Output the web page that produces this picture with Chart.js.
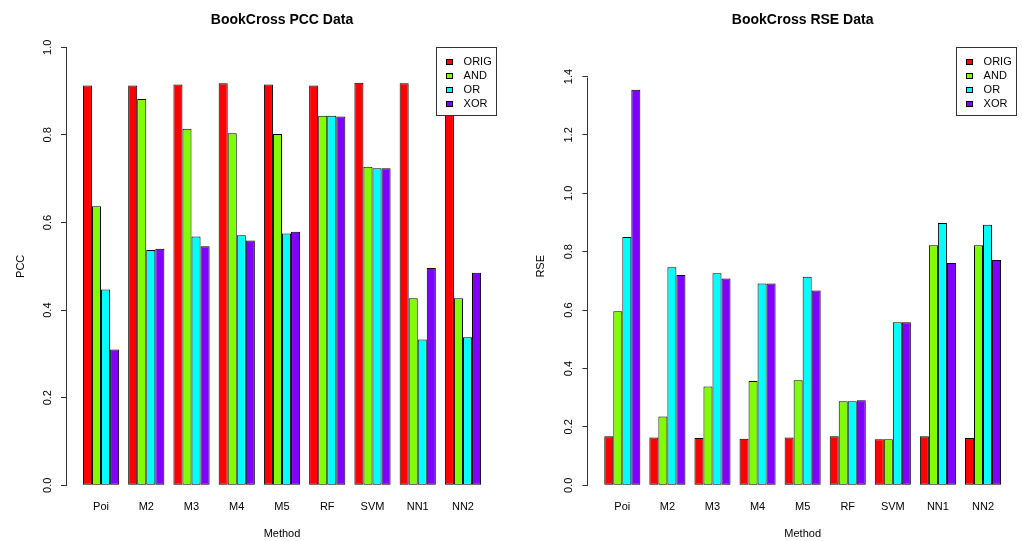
<!DOCTYPE html>
<html>
<head>
<meta charset="utf-8">
<script src="https://cdn.jsdelivr.net/npm/chart.js@4/dist/chart.umd.min.js"></script>
<style>
  html, body { margin: 0; padding: 0; background: #fff; }
  #wrap { position: relative; width: 1022px; height: 541px; overflow: hidden; }
  canvas { position: absolute; top: 0; }
  #pcc { left: 0; }
  #rse { left: 511px; }
</style>
</head>
<body>
<div id="wrap">
  <canvas id="pcc" width="511" height="541"></canvas>
  <canvas id="rse" width="511" height="541"></canvas>
</div>
<script>
// Methods compared on the BookCross data
const methods = ['Poi', 'M2', 'M3', 'M4', 'M5', 'RF', 'SVM', 'NN1', 'NN2'];
const seriesNames = ['ORIG', 'AND', 'OR', 'XOR'];
const seriesColors = ['#FF0000', '#80FF00', '#00FFFF', '#8000FF'];

// Pearson correlation coefficient per method
const pccOrig = [0.913, 0.913, 0.915, 0.918, 0.915, 0.913, 0.919, 0.918, 0.916];
const pccAnd  = [0.637, 0.882, 0.814, 0.804, 0.802, 0.844, 0.727, 0.427, 0.427];
const pccOr   = [0.447, 0.537, 0.568, 0.571, 0.575, 0.844, 0.724, 0.333, 0.338];
const pccXor  = [0.310, 0.540, 0.546, 0.559, 0.579, 0.842, 0.724, 0.496, 0.485];

// Relative squared error per method
const rseOrig = [0.168, 0.164, 0.162, 0.159, 0.164, 0.168, 0.158, 0.168, 0.162];
const rseAnd  = [0.596, 0.236, 0.338, 0.357, 0.360, 0.288, 0.158, 0.822, 0.822];
const rseOr   = [0.850, 0.747, 0.726, 0.691, 0.714, 0.288, 0.558, 0.898, 0.892];
const rseXor  = [1.355, 0.720, 0.708, 0.691, 0.667, 0.291, 0.558, 0.761, 0.772];

// Y-axis tick values
const pccTicks = [0.0, 0.2, 0.4, 0.6, 0.8, 1.0];
const rseTicks = [0.0, 0.2, 0.4, 0.6, 0.8, 1.0, 1.2, 1.4];

const FONT = '"Liberation Sans", Arial, Helvetica, sans-serif';
Chart.defaults.font.family = FONT;
Chart.defaults.color = '#000';

// Bar slots: each group is 4 bars of width 1 followed by a gap of 1
const groupCenter = i => 3 + 5 * i;
const X_MIN = 1 - 44 * 0.04;
const X_MAX = 45 + 44 * 0.04;

// Y axis line spanning only the tick range
const axisLine = {
  id: 'axisLine',
  afterDraw(chart) {
    const ys = chart.scales.y;
    const t = ys.ticks;
    const top = ys.getPixelForValue(t[t.length - 1].value);
    const bot = ys.getPixelForValue(t[0].value);
    const x = Math.round(chart.chartArea.left) - 0.5;
    const ctx = chart.ctx;
    ctx.save();
    ctx.strokeStyle = '#333';
    ctx.lineWidth = 1;
    ctx.beginPath();
    ctx.moveTo(x, Math.round(top) + 0.5);
    ctx.lineTo(x, Math.round(bot) + 0.5);
    ctx.stroke();
    ctx.restore();
  }
};

// Boxed legend in the top-right corner of the plot region
const boxLegend = {
  id: 'boxLegend',
  afterDatasetsDraw(chart) {
    const { ctx, chartArea } = chart;
    const w = 61, h = 69;
    const x0 = Math.round(chartArea.right - w);
    const y0 = Math.round(chartArea.top);
    ctx.save();
    ctx.fillStyle = '#fff';
    ctx.fillRect(x0, y0, w, h);
    ctx.strokeStyle = '#333';
    ctx.lineWidth = 1;
    ctx.strokeRect(x0 + 0.5, y0 + 0.5, w - 1, h - 1);
    ctx.font = '11px ' + FONT;
    ctx.textBaseline = 'middle';
    ctx.textAlign = 'left';
    chart.data.datasets.forEach((ds, i) => {
      const cy = Math.round(y0 + 14.7 + 14 * i);
      ctx.fillStyle = ds.backgroundColor;
      ctx.fillRect(x0 + 10, cy - 3, 7, 6);
      ctx.strokeStyle = '#000';
      ctx.strokeRect(x0 + 10.5, cy - 2.5, 6, 5);
      ctx.fillStyle = '#000';
      ctx.fillText(ds.label, x0 + 27.6, cy);
    });
    ctx.restore();
  }
};

function makeChart(id, cfg) {
  const datasets = cfg.series.map((vals, s) => ({
    label: seriesNames[s],
    data: vals.map((v, i) => ({ x: groupCenter(i), y: v })),
    backgroundColor: seriesColors[s],
    borderColor: '#000',
    borderWidth: 1,
    borderSkipped: false,
    categoryPercentage: 0.8,
    barPercentage: 1.0
  }));

  return new Chart(document.getElementById(id), {
    type: 'bar',
    data: { datasets },
    plugins: [axisLine, boxLegend],
    options: {
      responsive: false,
      animation: false,
      devicePixelRatio: 1,
      layout: { padding: { left: 0, right: cfg.padRight, top: 0, bottom: 0 } },
      plugins: {
        legend: { display: false },
        tooltip: { enabled: false },
        title: {
          display: true,
          text: cfg.title,
          fullSize: false,
          color: '#000',
          font: { size: 14, weight: 'bold', family: FONT, lineHeight: 1.2 },
          padding: { top: 12, bottom: 18.5 }
        }
      },
      scales: {
        x: {
          type: 'linear',
          offset: false,
          min: X_MIN,
          max: X_MAX,
          grid: { display: false, drawTicks: false, offset: false },
          border: { display: false },
          afterBuildTicks: axis => { axis.ticks = methods.map((m, i) => ({ value: groupCenter(i) })); },
          afterFit: scale => { scale.height = 55.7; },
          ticks: {
            autoSkip: false,
            maxRotation: 0,
            minRotation: 0,
            padding: 15,
            color: '#000',
            font: { size: 11 },
            callback: (v, i) => methods[i]
          },
          title: {
            display: true,
            text: 'Method',
            color: '#000',
            font: { size: 11, lineHeight: 1.2 },
            padding: { top: 0, bottom: 0 }
          }
        },
        y: {
          type: 'linear',
          min: 0,
          max: cfg.yMax,
          grid: { display: true, drawOnChartArea: false, drawTicks: true, tickLength: 6, color: '#333' },
          border: { display: false },
          afterBuildTicks: axis => { axis.ticks = cfg.ticks.map(v => ({ value: v })); },
          afterFit: scale => { scale.width = cfg.axisWidth; },
          ticks: {
            autoSkip: false,
            minRotation: 90,
            maxRotation: 90,
            crossAlign: 'center',
            padding: cfg.tickPad,
            color: '#000',
            font: { size: 11 },
            callback: v => Number(v).toFixed(1)
          },
          title: {
            display: true,
            text: cfg.yTitle,
            color: '#000',
            font: { size: 11, lineHeight: 1.2 },
            padding: { top: cfg.titlePad, bottom: 0 }
          }
        }
      }
    }
  });
}

makeChart('pcc', {
  title: 'BookCross PCC Data',
  yTitle: 'PCC',
  yMax: 1.0,
  ticks: pccTicks,
  series: [pccOrig, pccAnd, pccOr, pccXor],
  axisWidth: 67,
  padRight: 14,
  tickPad: 5,
  titlePad: 14.1
});

makeChart('rse', {
  title: 'BookCross RSE Data',
  yTitle: 'RSE',
  yMax: 1.5,
  ticks: rseTicks,
  series: [rseOrig, rseAnd, rseOr, rseXor],
  axisWidth: 77.4,
  padRight: 5.1,
  tickPad: 6,
  titlePad: 23.4
});
</script>
</body>
</html>
